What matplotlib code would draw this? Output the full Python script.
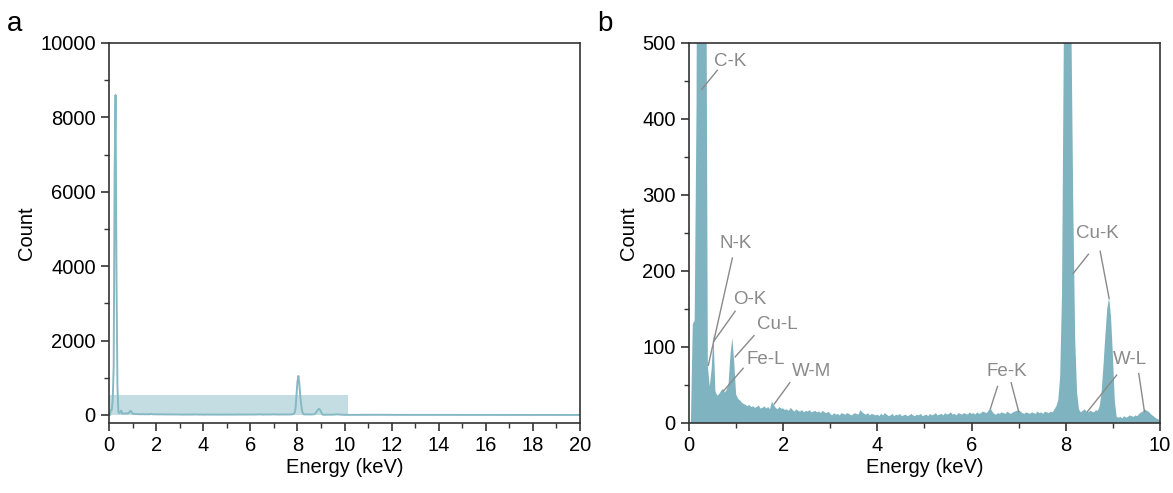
import numpy as np
import matplotlib.pyplot as plt
from matplotlib.patches import Rectangle
from matplotlib.ticker import MultipleLocator

plt.rcParams['font.family'] = ['Liberation Sans', 'DejaVu Sans']

# espectro EDS, canales de 0.04 keV entre 0 y 10 keV
energia = np.round(np.arange(0, 10.001, 0.04), 2)
cuentas = [
    # 0.00 - 0.96
    0, 0, 130, 135, 420, 1300, 6500, 8600, 3600, 760, 75, 48, 70, 118, 42, 36, 38, 42, 45, 40, 44, 52, 90, 112, 80,
    # 1.00 - 1.96
    38, 32, 30, 27, 25, 24, 22, 24, 21, 22, 20, 21, 23, 19, 20, 22, 19, 21, 18, 28, 24, 20, 18, 21, 19,
    # 2.00 - 2.96
    19, 17, 18, 16, 20, 17, 15, 18, 16, 15, 17, 14, 16, 15, 17, 14, 15, 16, 14, 15, 13, 16, 14, 13, 15,
    # 3.00 - 3.96
    12, 10, 13, 11, 12, 10, 13, 12, 11, 13, 12, 10, 11, 13, 12, 11, 17, 14, 12, 11, 13, 10, 12, 11, 10,
    # 4.00 - 4.96
    11, 9, 12, 10, 13, 11, 9, 10, 12, 9, 11, 10, 12, 9, 10, 11, 9, 10, 12, 10, 9, 11, 10, 12, 9,
    # 5.00 - 5.96
    10, 11, 9, 12, 10, 11, 13, 10, 11, 12, 10, 13, 11, 12, 14, 11, 12, 10, 13, 12, 11, 13, 12, 11, 14,
    # 6.00 - 6.96
    12, 13, 11, 14, 12, 13, 15, 14, 13, 16, 20, 15, 12, 11, 13, 12, 14, 13, 12, 15, 13, 12, 14, 15, 16,
    # 7.00 - 7.96
    17, 15, 13, 12, 14, 13, 12, 14, 13, 12, 15, 13, 14, 12, 15, 14, 13, 15, 14, 18, 22, 30, 60, 170, 520,
    # 8.00 - 8.96
    880, 1050, 860, 520, 280, 110, 40, 18, 14, 16, 18, 15, 14, 16, 15, 14, 17, 16, 22, 40, 75, 115, 150, 165, 140,
    # 9.00 - 9.96
    90, 30, 8, 7, 8, 6, 9, 7, 8, 10, 9, 8, 10, 9, 12, 14, 15, 18, 16, 15, 12, 10, 8, 6, 5,
    # 10.00
    3,
]
cuentas = np.array(cuentas)

# resto del espectro (10 - 20 keV), solo para el panel a
energia_alta = np.arange(10.5, 20.01, 0.5)
cuentas_alta = np.array([4, 5, 6, 4, 3, 4, 3, 3, 2, 3, 2, 2, 3, 2, 2, 2, 2, 2, 1, 1])

# etiquetas de picos: texto, posición del texto, segmentos de línea
etiquetas = ['C-K', 'N-K', 'O-K', 'Cu-L', 'Fe-L', 'W-M', 'Fe-K', 'Cu-K', 'W-L']
pos_texto = [(0.53, 475), (0.64, 236), (0.93, 162), (1.44, 130), (1.22, 84),
             (2.18, 68), (6.31, 68), (8.22, 249), (9.0, 83)]
lineas = [
    [((0.60, 464), (0.27, 439))],
    [((0.92, 217), (0.41, 76))],
    [((0.98, 147), (0.52, 107))],
    [((1.38, 115), (0.98, 87))],
    [((1.15, 72), (0.73, 42))],
    [((2.14, 53), (1.81, 25))],
    [((6.55, 48), (6.40, 19)), ((6.84, 53), (7.00, 15))],
    [((8.48, 222), (8.16, 197)), ((8.73, 226), (8.92, 164))],
    [((9.08, 63), (8.46, 15)), ((9.55, 65), (9.67, 15))],
]

col_linea = '#86b9c4'
col_relleno = '#7fb3bf'
col_caja = '#c3dde3'
col_etq = '#8a8a8a'
fs = 14.5

fig = plt.figure(figsize=(11.73, 4.93), dpi=100)
ax1 = fig.add_axes([0.0929, 0.142, 0.4016, 0.7708])
ax2 = fig.add_axes([0.5874, 0.142, 0.4015, 0.7708])

# panel a
ax1.add_patch(Rectangle((0, 0), 10.15, 530, facecolor=col_caja, edgecolor='none', zorder=1))
e_tot = np.concatenate([energia, energia_alta])
c_tot = np.concatenate([cuentas, cuentas_alta])
ax1.plot(e_tot, c_tot, color=col_linea, lw=1.4, zorder=2)
ax1.set_xlim(0, 20)
ax1.set_ylim(-215, 10000)
ax1.xaxis.set_major_locator(MultipleLocator(2))
ax1.xaxis.set_minor_locator(MultipleLocator(1))
ax1.yaxis.set_major_locator(MultipleLocator(2000))
ax1.yaxis.set_minor_locator(MultipleLocator(1000))

# panel b
ax2.fill_between(energia, 0, cuentas, color=col_relleno, lw=0)
for t, (x, y), segs in zip(etiquetas, pos_texto, lineas):
    ax2.text(x, y, t, color=col_etq, fontsize=13.5, ha='left', va='center')
    for (x0, y0), (x1, y1) in segs:
        ax2.plot([x0, x1], [y0, y1], color=col_etq, lw=1)
ax2.set_xlim(0, 10)
ax2.set_ylim(0, 500)
ax2.xaxis.set_major_locator(MultipleLocator(2))
ax2.xaxis.set_minor_locator(MultipleLocator(1))
ax2.yaxis.set_major_locator(MultipleLocator(100))
ax2.yaxis.set_minor_locator(MultipleLocator(50))

for ax in (ax1, ax2):
    for s in ax.spines.values():
        s.set_color('#333333')
        s.set_linewidth(1.2)
    ax.tick_params(which='major', direction='out', length=6, width=1.2, labelsize=fs, color='#333333')
    ax.tick_params(which='minor', direction='out', length=3.5, width=1.0, color='#333333')
    ax.set_xlabel('Energy (keV)', fontsize=fs, labelpad=2)
    ax.set_ylabel('Count', fontsize=fs, labelpad=3)

fig.text(0.006, 0.952, 'a', fontsize=20, va='center')
fig.text(0.509, 0.952, 'b', fontsize=20, va='center')

fig.savefig('out.png', dpi=100)
